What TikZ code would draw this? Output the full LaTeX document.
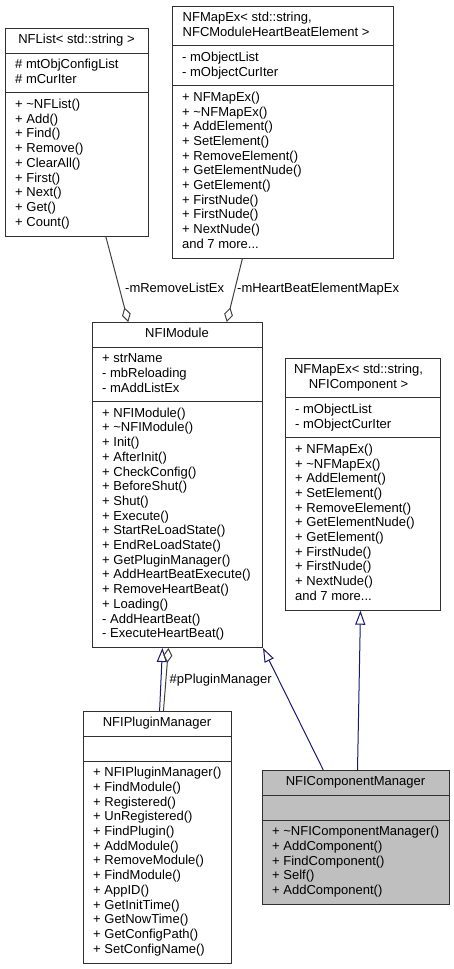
\documentclass[tikz,border=0pt]{standalone}
\usepackage{fontspec}
\setmainfont{Liberation Sans}
\usetikzlibrary{arrows.meta,calc}
\definecolor{inh}{HTML}{191970}
\definecolor{agg}{HTML}{404040}
\definecolor{bord}{HTML}{303030}
\definecolor{cur}{HTML}{BFBFBF}
\newcommand\fst{\rule{0pt}{11pt}}
\begin{document}
\begin{tikzpicture}[x=1pt,y=-1pt,
  every node/.style={font=\fontsize{13}{14.7}\selectfont, inner sep=0pt, text=black},
  cls/.style={draw=bord, line width=1pt, fill=white, anchor=north west, inner sep=0pt},
  sepline/.style={draw=bord, line width=1pt},
  txt/.style={anchor=north west, align=left},
  ttl/.style={anchor=north, align=center},
  inhe/.style={draw=inh, line width=1pt, -{Triangle[open,length=14pt,width=10pt]}},
  aggr/.style={draw=agg, line width=1pt, -{Diamond[open,length=15pt,width=9pt]}},
  lbl/.style={anchor=base west}]
\useasboundingbox (0,0) rectangle (454,969);

% NFList
\node[cls, minimum width=143pt, minimum height=207.5pt] (nfl) at (5,28) {};
\draw[sepline] (5,53) -- (148,53) (5,92.8) -- (148,92.8);
\node[ttl] (nfl-t) at (76.5,32.5) {\fst NFList< std::string >};
\node[txt] (nfl-a) at (15,57.5) {\fst\# mtObjConfigList\\\# mCurIter};
\node[txt] (nfl-m) at (15,97.3) {\fst + \textasciitilde NFList()\\+ Add()\\+ Find()\\+ Remove()\\+ ClearAll()\\+ First()\\+ Next()\\+ Get()\\+ Count()};

% NFMapEx HeartBeat
\node[cls, minimum width=221pt, minimum height=251.7pt] (mhb) at (172,6) {};
\draw[sepline] (172,45.8) -- (393,45.8) (172,85.6) -- (393,85.6);
\node[txt] (mhb-t) at (182.5,10.5) {\fst NFMapEx< std::string,\\NFCModuleHeartBeatElement >};
\node[txt] (mhb-a) at (182,50.3) {\fst - mObjectList\\- mObjectCurIter};
\node[txt] (mhb-m) at (182,90.1) {\fst + NFMapEx()\\+ \textasciitilde NFMapEx()\\+ AddElement()\\+ SetElement()\\+ RemoveElement()\\+ GetElementNude()\\+ GetElement()\\+ FirstNude()\\+ FirstNude()\\+ NextNude()\\and 7 more...};

% NFIModule
\node[cls, minimum width=170pt, minimum height=325pt] (mod) at (92,322) {};
\draw[sepline] (92,347) -- (262,347) (92,401.5) -- (262,401.5);
\node[ttl] (mod-t) at (177,326.5) {\fst NFIModule};
\node[txt] (mod-a) at (102,351.5) {\fst + strName\\- mbReloading\\- mAddListEx};
\node[txt] (mod-m) at (102,406) {\fst + NFIModule()\\+ \textasciitilde NFIModule()\\+ Init()\\+ AfterInit()\\+ CheckConfig()\\+ BeforeShut()\\+ Shut()\\+ Execute()\\+ StartReLoadState()\\+ EndReLoadState()\\+ GetPluginManager()\\+ AddHeartBeatExecute()\\+ RemoveHeartBeat()\\+ Loading()\\- AddHeartBeat()\\- ExecuteHeartBeat()};

% NFMapEx NFIComponent
\node[cls, minimum width=155pt, minimum height=251.7pt] (mic) at (285,358) {};
\draw[sepline] (285,397.8) -- (440,397.8) (285,437.6) -- (440,437.6);
\node[ttl] (mic-t) at (358.5,362.5) {\fst NFMapEx< std::string,\\ NFIComponent >};
\node[txt] (mic-a) at (295,402.3) {\fst - mObjectList\\- mObjectCurIter};
\node[txt] (mic-m) at (295,442.1) {\fst + NFMapEx()\\+ \textasciitilde NFMapEx()\\+ AddElement()\\+ SetElement()\\+ RemoveElement()\\+ GetElementNude()\\+ GetElement()\\+ FirstNude()\\+ FirstNude()\\+ NextNude()\\and 7 more...};

% NFIPluginManager
\node[cls, minimum width=148pt, minimum height=251.5pt] (pm) at (83,711) {};
\draw[sepline] (83,736) -- (231,736) (83,761) -- (231,761);
\node[ttl] (pm-t) at (157,715.5) {\fst NFIPluginManager};
\node[txt] (pm-m) at (93,765.5) {\fst + NFIPluginManager()\\+ FindModule()\\+ Registered()\\+ UnRegistered()\\+ FindPlugin()\\+ AddModule()\\+ RemoveModule()\\+ FindModule()\\+ AppID()\\+ GetInitTime()\\+ GetNowTime()\\+ GetConfigPath()\\+ SetConfigName()};

% NFIComponentManager
\node[cls, fill=cur, minimum width=187pt, minimum height=134pt] (cm) at (262,770) {};
\draw[sepline] (262,795) -- (449,795) (262,820) -- (449,820);
\node[ttl] (cm-t) at (355.5,774.5) {\fst NFIComponentManager};
\node[txt] (cm-m) at (272,824.5) {\fst + \textasciitilde NFIComponentManager()\\+ AddComponent()\\+ FindComponent()\\+ Self()\\+ AddComponent()};

% connectors
\draw[aggr] ($(nfl.south west)!0.70!(nfl.south east)$) -- ($(mod.north west)!0.212!(mod.north east)$);
\draw[aggr] ($(mhb.south west)!0.317!(mhb.south east)$) -- ($(mod.north west)!0.788!(mod.north east)$);
\draw[inhe] ($(pm.north west)!0.514!(pm.north east)$) -- ($(mod.south west)!0.412!(mod.south east)$);
\draw[aggr] ($(pm.north west)!0.54!(pm.north east)$) -- ($(mod.south west)!0.447!(mod.south east)$);
\draw[inhe] ($(cm.north west)!0.326!(cm.north east)$) -- (mod.south east);
\draw[inhe] ($(cm.north west)!0.508!(cm.north east)$) -- ($(mic.south west)!0.484!(mic.south east)$);

% labels
\node[lbl] (l1) at (125,292) {-mRemoveListEx};
\node[lbl] (l2) at (237,292) {-mHeartBeatElementMapEx};
\node[lbl] (l3) at (169.5,683) {\#pPluginManager};
\end{tikzpicture}
\end{document}
